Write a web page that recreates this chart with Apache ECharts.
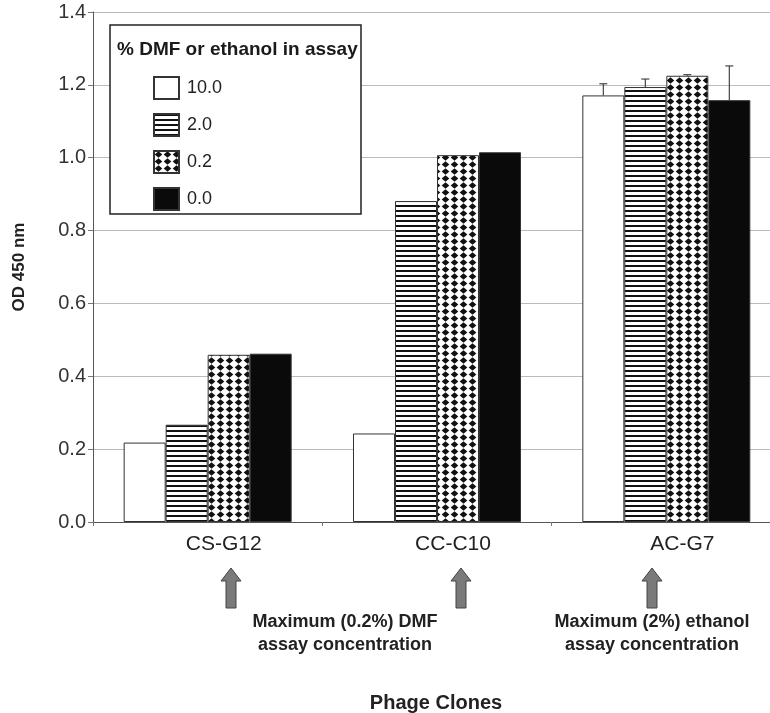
<!DOCTYPE html>
<html>
<head>
<meta charset="utf-8">
<script src="https://cdn.jsdelivr.net/npm/echarts@6/dist/echarts.min.js"></script>
<style>
  html, body { margin: 0; padding: 0; background: #fff; overflow: hidden; }
  /* the original figure is cropped at the right, so the chart is a bit wider than the window */
  #chart { width: 781px; height: 713px; }
</style>
</head>
<body>
<div id="chart"></div>
<script>
// phage clones on the x axis
var clones = ['CS-G12', 'CC-C10', 'AC-G7']
// % DMF or ethanol in assay
var levels = ['10.0', '2.0', '0.2', '0.0']
// OD 450 nm, one array per solvent level
var od100 = [0.218, 0.243, 1.171]
var od20 = [0.267, 0.881, 1.194]
var od02 = [0.459, 1.007, 1.225]
var od00 = [0.462, 1.015, 1.158]
// upper error (only AC-G7 has bars)
var err100 = [0, 0, 0.032]
var err20 = [0, 0, 0.022]
var err02 = [0, 0, 0.003]
var err00 = [0, 0, 0.094]
var yTicks = [0, 0.2, 0.4, 0.6, 0.8, 1.0, 1.2, 1.4]

var FONT = 'Liberation Sans, Arial, sans-serif'
var BAR_W = 42

function stripeTile() {
  var c = document.createElement('canvas')
  c.width = 4
  c.height = 5
  var ctx = c.getContext('2d')
  ctx.fillStyle = '#fff'
  ctx.fillRect(0, 0, 4, 5)
  ctx.fillStyle = '#111'
  ctx.fillRect(0, 0, 4, 2)
  return c
}

function dotTile() {
  var c = document.createElement('canvas')
  c.width = 9
  c.height = 7
  var ctx = c.getContext('2d')
  ctx.fillStyle = '#fff'
  ctx.fillRect(0, 0, 9, 7)
  ctx.fillStyle = '#111'
  ctx.beginPath()
  ctx.moveTo(4.5, 0.2)
  ctx.lineTo(8.3, 3.5)
  ctx.lineTo(4.5, 6.8)
  ctx.lineTo(0.7, 3.5)
  ctx.closePath()
  ctx.fill()
  return c
}

var fills = [
  '#fff',
  { image: stripeTile(), repeat: 'repeat' },
  { image: dotTile(), repeat: 'repeat' },
  '#0a0a0a'
]
var values = [od100, od20, od02, od00]
var errors = [err100, err20, err02, err00]

var chart = echarts.init(document.getElementById('chart'), null, { renderer: 'canvas' })

var series = []
levels.forEach(function (name, k) {
  series.push({
    name: name,
    type: 'bar',
    barWidth: BAR_W,
    barGap: '0%',
    data: values[k],
    itemStyle: {
      color: fills[k],
      borderColor: '#333',
      borderWidth: 1
    },
    z: 2
  })
})
levels.forEach(function (name, k) {
  series.push({
    type: 'custom',
    silent: true,
    z: 5,
    data: values[k].map(function (v, i) { return [i, v, v + errors[k][i]] }),
    renderItem: function (params, api) {
      var lo = api.value(1)
      var hi = api.value(2)
      if (hi - lo < 1e-9) return null
      var off = (k - 1.5) * BAR_W
      var p0 = api.coord([api.value(0), lo])
      var p1 = api.coord([api.value(0), hi])
      var x = p0[0] + off
      var st = { stroke: '#444', lineWidth: 1.2 }
      return {
        type: 'group',
        children: [
          { type: 'line', shape: { x1: x, y1: p0[1], x2: x, y2: p1[1] }, style: st },
          { type: 'line', shape: { x1: x - 4, y1: p1[1], x2: x + 4, y2: p1[1] }, style: st }
        ]
      }
    }
  })
})

function arrow(cx) {
  return {
    type: 'polygon',
    z: 10,
    shape: {
      points: [[cx, 568], [cx + 10, 581], [cx + 5, 581], [cx + 5, 608],
        [cx - 5, 608], [cx - 5, 581], [cx - 10, 581]]
    },
    style: { fill: '#7a7a7a', stroke: '#444', lineWidth: 1 }
  }
}

var option = {
  backgroundColor: '#fff',
  animation: false,
  grid: {
    left: 93,
    right: 0,
    top: 12,
    bottom: 191
  },
  legend: {
    data: levels,
    orient: 'vertical',
    left: 148,
    top: 71,
    icon: 'rect',
    itemWidth: 25,
    itemHeight: 22,
    itemGap: 13,
    z: 6,
    textStyle: {
      fontFamily: FONT,
      fontSize: 18,
      color: '#222',
      padding: [0, 0, 0, 3]
    }
  },
  xAxis: {
    type: 'category',
    data: clones,
    axisLine: { lineStyle: { color: '#555', width: 1 } },
    axisTick: { show: true, length: 4, lineStyle: { color: '#777' } },
    axisLabel: {
      fontFamily: FONT,
      fontSize: 21,
      color: '#222',
      margin: 12,
      padding: [0, 0, 0, 32]
    }
  },
  yAxis: {
    type: 'value',
    min: 0,
    max: 1.4,
    interval: 0.2,
    name: 'OD 450 nm',
    nameLocation: 'middle',
    nameGap: 65,
    nameTextStyle: {
      fontFamily: FONT,
      fontSize: 17,
      fontWeight: 'bold',
      color: '#222'
    },
    axisLine: { show: true, lineStyle: { color: '#555', width: 1 } },
    axisTick: { show: true, length: 5, lineStyle: { color: '#777' } },
    splitLine: { lineStyle: { color: '#bbb', width: 1 } },
    axisLabel: {
      fontFamily: FONT,
      fontSize: 20,
      color: '#333',
      margin: 7,
      formatter: function (v) {
        var t = yTicks.indexOf(Math.round(v * 10) / 10)
        return t >= 0 ? yTicks[t].toFixed(1) : ''
      }
    }
  },
  graphic: [
    {
      type: 'rect',
      z: 3,
      shape: { x: 110, y: 25, width: 251, height: 189 },
      style: { fill: '#fff', stroke: '#222', lineWidth: 1.5 }
    },
    {
      type: 'text',
      z: 4,
      left: 117,
      top: 40,
      style: {
        text: '% DMF or ethanol in assay',
        font: 'bold 19px ' + FONT,
        fill: '#1a1a1a'
      }
    },
    arrow(231),
    arrow(461),
    arrow(652),
    {
      type: 'text',
      z: 10,
      x: 345,
      y: 634,
      style: {
        text: 'Maximum (0.2%) DMF\nassay concentration',
        font: 'bold 18px ' + FONT,
        fill: '#222',
        align: 'center',
        verticalAlign: 'middle',
        lineHeight: 23
      }
    },
    {
      type: 'text',
      z: 10,
      x: 652,
      y: 634,
      style: {
        text: 'Maximum (2%) ethanol\nassay concentration',
        font: 'bold 18px ' + FONT,
        fill: '#222',
        align: 'center',
        verticalAlign: 'middle',
        lineHeight: 23
      }
    },
    {
      type: 'text',
      z: 10,
      x: 436,
      y: 703,
      style: {
        text: 'Phage Clones',
        font: 'bold 20px ' + FONT,
        fill: '#222',
        align: 'center',
        verticalAlign: 'middle'
      }
    }
  ],
  series: series
}
chart.setOption(option)
</script>
</body>
</html>
